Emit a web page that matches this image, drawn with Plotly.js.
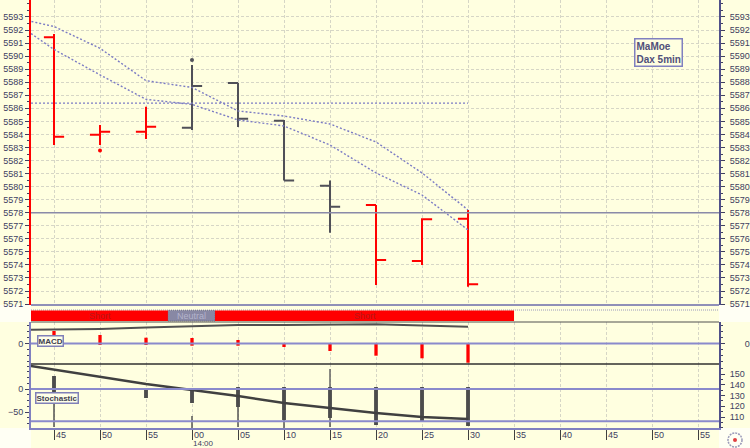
<!DOCTYPE html>
<html><head><meta charset="utf-8">
<script src="https://cdn.plot.ly/plotly-3.0.1.min.js"></script>
<style>html,body{margin:0;padding:0;background:#ffffe0;}#chart{width:750px;height:448px;}</style>
</head><body><div id="chart"></div>
<script>
// ---------- data ----------
const times = ['13:45','13:50','13:55','14:00','14:05','14:10','14:15','14:20','14:25','14:30'];
const openP  = [5591.44,5583.98,5584.21,5584.52,5587.94,5585.05,5580.07,5578.59,5574.30,5577.54];
const highP  = [5591.70,5584.72,5586.13,5589.32,5587.94,5585.10,5580.46,5578.59,5577.57,5578.21];
const lowP   = [5583.19,5583.19,5583.65,5584.34,5584.57,5580.46,5576.47,5572.46,5573.99,5572.33];
const closeP = [5583.83,5584.21,5584.59,5587.71,5585.21,5580.46,5578.46,5574.38,5577.50,5572.52];
const barSignal = ['short','short','short','flat','flat','flat','flat','short','short','short'];

const sarTimes  = ['13:50','14:00'];
const sarValues = [5582.76,5589.70];
const sarSignal = ['short','flat'];

const maTimes = ['13:40','13:45','13:50','13:55','14:00','14:05','14:10','14:15','14:20','14:25','14:30'];
const maSlow  = [5593.05,5592.27,5590.60,5588.12,5587.60,5585.80,5585.41,5584.80,5583.42,5581.05,5578.21];
const maFast  = [5592.95,5590.51,5588.56,5586.69,5586.30,5585.11,5584.65,5583.19,5581.05,5579.36,5576.68];

const priceLevelSolid  = 5578.0;
const priceLevelDashed = 5586.4;

const signalStart = ['13:42:30','13:57:25','14:02:30'];
const signalEnd   = ['13:57:25','14:02:30','14:35:00'];
const signalLabel = ['Short','Neutral','Short'];

const macdHistHigh = [12.5, 8.5, 5.8, 5.5, 3.5, 0.5, 0.5, 0.5, 0.5, 0.5];
const macdHistLow  = [ 8.5,-1.5,-1.5,-2.2,-2.2,-3.5,-7.5,-12.2,-14.8,-19.2];
const macdLine     = [13.5,14,14.5,16,17.5,18.5,18.5,19.2,19.2,18,16.8]; // on maTimes

const stochHigh = [28.3, 2.2,  2.2,  2.2,  4.3,  4.3,  4.3,  4.3,  4.3,  4.3];
const stochLow  = [-6.5,-2.2,-19.6,-30.4,-39.1,-67.4,-63.0,-78.3,-71.7,-80.4];
const stochTailHigh = [-23.9,null,null,-58.7,-39.1,-67.4,-63.0,null,null,null];
const stochTailLow  = [-82.6,null,null,-84.8,-82.6,-84.8,-82.6,null,null,null];
const stochSpikeHigh = [null,null,null,null,null,null,43.5,null,null,null];
const stochSpikeLow  = [null,null,null,null,null,null, 4.3,null,null,null];
const stochLine = [58,42.2,26.1,10.9,-2.2,-15.2,-30.4,-41.3,-52.2,-60.9,-65.2]; // on maTimes
const stochLevels = [0,-70];

const tickTimes  = ['13:45','13:50','13:55','14:00','14:05','14:10','14:15','14:20','14:25','14:30','14:35','14:40','14:45','14:50','14:55'];
const tickLabels = ['45','50','55','00','05','10','15','20','25','30','35','40','45','50','55'];
const hourLabelTime = '14:00', hourLabel = '14:00';
const priceTicks = [5571,5572,5573,5574,5575,5576,5577,5578,5579,5580,5581,5582,5583,5584,5585,5586,5587,5588,5589,5590,5591,5592,5593];
const stochRightTicks = [110,120,130,140,150];
const stochLeftTicks = [0,-50];

// ---------- helpers ----------
function toMin(t){const p=t.split(':').map(Number);return (p[0]*60+p[1]+(p[2]||0)/60)-(13*60+45);}
const H=428; function py(px){return (H-px)/H;}
function px2x(px){return (px-31)/688;}
const RED='#ff0000', GRAY='#505058', DOTBLUE='#7c7cc4', LVL='#8a8acc';
const xr=[-2.5,72.28];
const xs=times.map(toMin), xm=maTimes.map(toMin);
function pick(arr,sig,s){return arr.filter((v,i)=>sig[i]===s);}
const fnt={family:'Liberation Sans, Arial, sans-serif',size:9,color:'#404060'};

const traces=[];
['short','flat'].forEach(s=>{
  const c = s==='short'?RED:GRAY;
  traces.push({type:'ohlc',x:pick(xs,barSignal,s),open:pick(openP,barSignal,s),high:pick(highP,barSignal,s),
    low:pick(lowP,barSignal,s),close:pick(closeP,barSignal,s),tickwidth:0.22,
    increasing:{line:{color:c,width:2}},decreasing:{line:{color:c,width:2}},
    xaxis:'x',yaxis:'y',showlegend:false,hoverinfo:'skip'});
});
traces.push({type:'scatter',mode:'lines',x:xm,y:maSlow,line:{color:DOTBLUE,width:1.4,dash:'2px,2px'},xaxis:'x',yaxis:'y',showlegend:false,hoverinfo:'skip'});
traces.push({type:'scatter',mode:'lines',x:xm,y:maFast,line:{color:DOTBLUE,width:1.4,dash:'2px,2px'},xaxis:'x',yaxis:'y',showlegend:false,hoverinfo:'skip'});
traces.push({type:'scatter',mode:'markers',x:sarTimes.map(toMin),y:sarValues,marker:{size:4,color:sarSignal.map(s=>s==='short'?RED:GRAY)},xaxis:'x',yaxis:'y',showlegend:false,hoverinfo:'skip'});
traces.push({type:'scatter',x:[],y:[],xaxis:'x',yaxis:'y4',showlegend:false});
// MACD
traces.push({type:'scatter',mode:'lines',x:xm,y:macdLine,line:{color:'#505050',width:2},xaxis:'x',yaxis:'y2',showlegend:false,hoverinfo:'skip'});
traces.push({type:'bar',x:xs,y:macdHistHigh.map((h,i)=>h-macdHistLow[i]),base:macdHistLow,width:0.36,marker:{color:RED,line:{width:0}},xaxis:'x',yaxis:'y2',showlegend:false,hoverinfo:'skip'});
traces.push({type:'scatter',x:[],y:[],xaxis:'x',yaxis:'y5',showlegend:false});
// Stochastic
traces.push({type:'bar',x:xs,y:stochTailHigh.map((h,i)=>h===null?null:h-stochTailLow[i]),base:stochTailLow,width:0.16,marker:{color:'#505050',line:{width:0}},xaxis:'x',yaxis:'y3',showlegend:false,hoverinfo:'skip'});
traces.push({type:'bar',x:xs,y:stochSpikeHigh.map((h,i)=>h===null?null:h-stochSpikeLow[i]),base:stochSpikeLow,width:0.16,marker:{color:'#606060',line:{width:0}},xaxis:'x',yaxis:'y3',showlegend:false,hoverinfo:'skip'});
traces.push({type:'bar',x:xs,y:stochHigh.map((h,i)=>h-stochLow[i]),base:stochLow,width:0.42,marker:{color:'#4c4c4c',line:{width:0}},xaxis:'x',yaxis:'y3',showlegend:false,hoverinfo:'skip'});
traces.push({type:'scatter',mode:'lines',x:xm,y:stochLine,line:{color:'#404040',width:2.5},xaxis:'x',yaxis:'y3',showlegend:false,hoverinfo:'skip'});
traces.push({type:'scatter',x:[],y:[],xaxis:'x',yaxis:'y6',showlegend:false});

const priceDom=[py(305),1], macdDom=[py(364),py(322)], stochDom=[0,py(364)];
const priceRange=[5570.93,5594.30];
const shapes=[];
// whitish paper strips
[[-0.046,0,py(322),py(305)],[1,1.046,py(322),py(305)],[-0.046,0,py(448),py(428)],[1,1.046,py(448),py(428)]].forEach(r=>{
  shapes.push({type:'rect',xref:'paper',yref:'paper',x0:r[0],x1:r[1],y0:r[2],y1:r[3],fillcolor:'#fffff4',line:{width:0},layer:'below'});
});
// price levels
shapes.push({type:'line',xref:'paper',yref:'y',x0:0,x1:1,y0:priceLevelSolid,y1:priceLevelSolid,line:{color:'#8a8aa8',width:1.3}});
shapes.push({type:'line',xref:'x',yref:'y',x0:xr[0],x1:xs[xs.length-1],y0:priceLevelDashed,y1:priceLevelDashed,line:{color:DOTBLUE,width:1.4,dash:'2px,2px'}});
shapes.push({type:'line',xref:'paper',yref:'paper',x0:0,x1:1,y0:py(305),y1:py(305),line:{color:'#9090b8',width:2}});
shapes.push({type:'line',xref:'paper',yref:'paper',x0:0,x1:1,y0:py(310),y1:py(310),line:{color:'#9a9abc',width:1,dash:'1px,1px'}});
// signal band
signalStart.forEach((s,i)=>{
  const neutral = signalLabel[i]!=='Short';
  shapes.push({type:'rect',xref:'x',yref:'paper',x0:toMin(s),x1:toMin(signalEnd[i]),y0:py(321),y1:py(310.5),
    fillcolor:neutral?'#8888a4':RED,line:{width:neutral?1:0,color:'#6a6a88',dash:'1px,1px'}});
});
shapes.push({type:'line',xref:'paper',yref:'paper',x0:0,x1:1,y0:py(322),y1:py(322),line:{color:'#505050',width:1}});
// MACD zero
shapes.push({type:'line',xref:'paper',yref:'y2',x0:0,x1:1,y0:0,y1:0,line:{color:LVL,width:2}});
shapes.push({type:'line',xref:'paper',yref:'paper',x0:0,x1:1,y0:py(364),y1:py(364),line:{color:'#303030',width:1.5}});
stochLevels.forEach(v=>shapes.push({type:'line',xref:'paper',yref:'y3',x0:0,x1:1,y0:v,y1:v,line:{color:LVL,width:2}}));
// corner icon
shapes.push({type:'circle',xref:'paper',yref:'paper',x0:px2x(728),x1:px2x(742),y0:py(447),y1:py(433),line:{color:'#9a9ab8',width:1.5,dash:'2px,1px'}});
shapes.push({type:'circle',xref:'paper',yref:'paper',x0:px2x(733),x1:px2x(737),y0:py(442),y1:py(438),fillcolor:'#e04040',line:{width:0}});

const annotations=[];
tickTimes.forEach((t,i)=>annotations.push({xref:'x',yref:'paper',x:toMin(t),y:0,xanchor:'left',yanchor:'top',xshift:1,yshift:-1,borderpad:0,text:tickLabels[i],showarrow:false,font:fnt}));
annotations.push({xref:'x',yref:'paper',x:toMin(hourLabelTime),y:0,xanchor:'left',yanchor:'top',xshift:0,yshift:-10,borderpad:0,text:hourLabel,showarrow:false,
  font:{family:'Liberation Sans, Arial, sans-serif',size:8,color:'#404060'}});
signalStart.forEach((s,i)=>{
  const neutral = signalLabel[i]!=='Short';
  annotations.push({xref:'x',yref:'paper',x:(toMin(s)+toMin(signalEnd[i]))/2,y:py(315.8),xanchor:'center',yanchor:'middle',borderpad:0,text:signalLabel[i],showarrow:false,
    font:{family:'Liberation Sans, Arial, sans-serif',size:9,color:neutral?'#b4b4cc':'#b81818'}});
});
annotations.push({xref:'paper',yref:'paper',x:px2x(634),y:py(38),xanchor:'left',yanchor:'top',align:'left',text:'<b>MaMoe<br>Dax 5min</b>',
  showarrow:false,bordercolor:'#8080c0',borderwidth:1.5,borderpad:1,bgcolor:'#ffffe0',font:{family:'Liberation Sans, Arial, sans-serif',size:10,color:'#50507a'}});
annotations.push({xref:'paper',yref:'paper',x:px2x(37),y:py(335),xanchor:'left',yanchor:'top',text:'<b>MACD</b>',showarrow:false,
  bordercolor:'#8080b8',borderwidth:1.5,borderpad:0,bgcolor:'#ffffe8',font:{family:'Liberation Sans, Arial, sans-serif',size:8,color:'#404050'}});
annotations.push({xref:'paper',yref:'paper',x:px2x(35),y:py(392),xanchor:'left',yanchor:'top',text:'<b>Stochastic</b>',showarrow:false,
  bordercolor:'#8080b8',borderwidth:1.5,borderpad:0,bgcolor:'#ffffe8',font:{family:'Liberation Sans, Arial, sans-serif',size:8,color:'#404050'}});

const grid={showgrid:true,gridcolor:'#d6d6c6',griddash:'3px,2px',gridwidth:1};
const layout={
  width:750,height:448,margin:{l:31,r:31,t:0,b:20},
  paper_bgcolor:'#ffffe0',plot_bgcolor:'#ffffe0',barmode:'overlay',showlegend:false,
  font:fnt,
  xaxis:Object.assign({domain:[0,1],range:xr,anchor:'y3',tickmode:'array',tickvals:tickTimes.map(toMin),showticklabels:false,
    ticks:'outside',ticklen:10,tickcolor:'#404040',tickwidth:1,showline:true,linecolor:'#8080c0',linewidth:2,zeroline:false,
    rangeslider:{visible:false},fixedrange:true},grid),
  yaxis:Object.assign({domain:priceDom,range:priceRange,anchor:'x',side:'left',tickmode:'array',tickvals:priceTicks,
    ticks:'outside',ticklen:4,tickcolor:'#404060',showline:true,linecolor:RED,linewidth:2,zeroline:false,tickfont:fnt,
    minor:{dtick:0.5,tick0:0.5,ticks:'outside',ticklen:2,tickcolor:'#404060',showgrid:false}},grid,{dtick:1}),
  yaxis4:{overlaying:'y',side:'right',anchor:'x',range:priceRange,tickmode:'array',tickvals:priceTicks,ticks:'outside',ticklen:4,
    tickcolor:'#404060',showline:true,linecolor:'#50508a',linewidth:2,showgrid:false,zeroline:false,tickfont:fnt,ticklabelstandoff:3,
    minor:{dtick:0.5,ticks:'outside',ticklen:2,tickcolor:'#404060'}},
  yaxis2:{domain:macdDom,range:[-20.5,21.5],anchor:'x',side:'left',tickmode:'array',tickvals:[0],ticks:'outside',ticklen:4,tickcolor:'#404060',
    showline:true,linecolor:'#8080c0',linewidth:2,showgrid:false,zeroline:false,tickfont:fnt,
    minor:{dtick:6,ticks:'outside',ticklen:2,tickcolor:'#404060'}},
  yaxis5:{overlaying:'y2',side:'right',anchor:'x',range:[-20.5,21.5],tickmode:'array',tickvals:[0],ticks:'outside',ticklen:4,tickcolor:'#404060',
    showline:true,linecolor:'#50508a',linewidth:2,showgrid:false,zeroline:false,tickfont:fnt,ticklabelstandoff:18,
    minor:{dtick:6,ticks:'outside',ticklen:2,tickcolor:'#404060'}},
  yaxis3:{domain:stochDom,range:[-84.78,54.35],anchor:'x',side:'left',tickmode:'array',tickvals:stochLeftTicks,ticks:'outside',ticklen:4,tickcolor:'#404060',
    showline:true,linecolor:'#8080c0',linewidth:2,showgrid:false,zeroline:false,tickfont:fnt,
    minor:{dtick:12.5,ticks:'outside',ticklen:2,tickcolor:'#404060'}},
  yaxis6:{overlaying:'y3',side:'right',anchor:'x',range:[99.77,159.3],tickmode:'array',tickvals:stochRightTicks,ticks:'outside',ticklen:4,tickcolor:'#404060',
    showline:true,linecolor:'#50508a',linewidth:2,showgrid:false,zeroline:false,tickfont:fnt,ticklabelstandoff:3,
    minor:{dtick:5,ticks:'outside',ticklen:2,tickcolor:'#404060'}},
  shapes:shapes,annotations:annotations
};
Plotly.newPlot('chart',traces,layout,{displayModeBar:false,staticPlot:true});
</script></body></html>
